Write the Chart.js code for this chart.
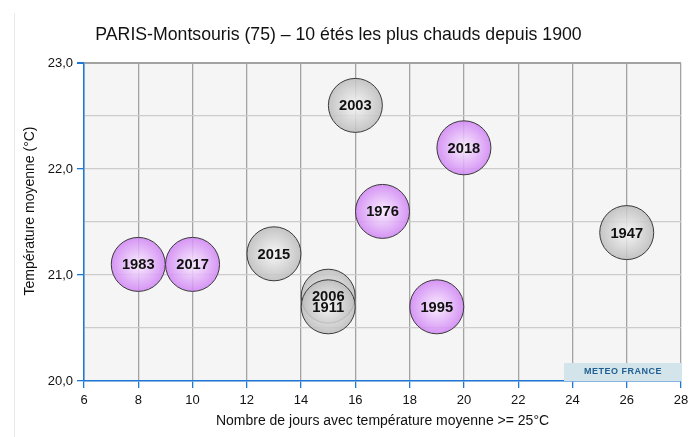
<!DOCTYPE html>
<html><head><meta charset="utf-8">
<script src="https://cdn.jsdelivr.net/npm/chart.js@4/dist/chart.umd.min.js"></script>
<style>html,body{margin:0;padding:0;background:#fff}#wrap{width:696px;height:437px}</style>
</head><body><div id="wrap"><canvas id="c" width="696" height="437"></canvas></div>
<script>
const years = ['1983','2017','2015','2006','1911','2003','1976','1995','2018','1947'];
const hotDays = [8,10,13,15,15,16,17,19,20,26];
const meanTemp = [21.1,21.1,21.2,20.8,20.7,22.6,21.6,20.7,22.2,21.4];
const groups = ['violet','violet','gris','gris','gris','gris','violet','violet','violet','gris'];
const xTicks = [6,8,10,12,14,16,18,20,22,24,26,28];
const yTicks = [20,21,22,23];
const titleText = 'PARIS-Montsouris (75) – 10 étés les plus chauds depuis 1900';

const points = hotDays.map((d,i)=>({x:d,y:meanTemp[i]}));
const BLUE = '#1f78d6';
const FONT = '"Liberation Sans", Arial, sans-serif';

function grad(ctx){
  const chart = ctx.chart;
  if(!chart.chartArea || ctx.type!=='data') return 'rgba(200,200,200,0.8)';
  const p = ctx.parsed;
  const cx = chart.scales.x.getPixelForValue(p.x);
  const cy = chart.scales.y.getPixelForValue(p.y);
  const g = chart.ctx.createRadialGradient(cx,cy,2,cx,cy,27);
  if(groups[ctx.dataIndex]==='violet'){
    g.addColorStop(0,'rgba(247,228,255,0.85)');
    g.addColorStop(1,'rgba(208,132,244,0.85)');
  } else {
    g.addColorStop(0,'rgba(242,242,242,0.85)');
    g.addColorStop(1,'rgba(188,188,188,0.85)');
  }
  return g;
}

const extras = {
  id:'extras',
  beforeDraw(chart){
    const c = chart.ctx;
    c.save();
    c.strokeStyle='#e8e8e8'; c.lineWidth=1;
    c.beginPath(); c.moveTo(14.5,13); c.lineTo(14.5,437); c.stroke();
    const a = chart.chartArea;
    c.fillStyle='#f5f5f5';
    c.fillRect(a.left,a.top,a.right-a.left,a.bottom-a.top);
    c.restore();
  },
  afterDatasetsDraw(chart){
    const c = chart.ctx;
    const meta = chart.getDatasetMeta(0);
    c.save();
    c.font = 'bold 14.7px '+FONT;
    c.fillStyle = '#111';
    c.textAlign='center'; c.textBaseline='middle';
    meta.data.forEach((el,i)=>{ c.fillText(years[i], el.x, el.y+1); });
    c.restore();
  },
  afterDraw(chart){
    const c = chart.ctx, a = chart.chartArea;
    c.save();
    c.font = '17.7px '+FONT; c.fillStyle='#111';
    c.textAlign='center'; c.textBaseline='middle';
    c.fillText(titleText, 338.5, 35);
    c.restore();
    c.save();
    c.translate(30, 211);
    c.rotate(-Math.PI/2);
    c.font = '14px '+FONT; c.fillStyle='#111';
    c.textAlign='center'; c.textBaseline='middle';
    c.fillText('Température moyenne (°C)',0,0);
    c.restore();
    c.save();
    const w=118,h=18;
    c.fillStyle='#d3e4ea';
    c.fillRect(a.right-w+1, a.bottom-h, w, h);
    c.font='bold 9px '+FONT; c.fillStyle='#1f5f92';
    c.textAlign='center'; c.textBaseline='middle';
    if ('letterSpacing' in c) c.letterSpacing='0.5px';
    c.fillText('METEO FRANCE', a.right-w/2+1, a.bottom-h/2);
    c.restore();
  }
};

new Chart(document.getElementById('c'),{
  type:'bubble',
  data:{datasets:[{
    data:points,
    radius:27,
    backgroundColor:grad,
    borderColor:'#3a3a3a',
    borderWidth:1,
    hoverRadius:0
  }]},
  options:{
    responsive:false,
    animation:false,
    events:[],
    layout:{autoPadding:false,padding:{left:0,right:15,top:63,bottom:0}},
    plugins:{
      legend:{display:false},
      tooltip:{enabled:false},
      title:{display:false}
    },
    scales:{
      x:{
        type:'linear',min:xTicks[0],max:xTicks[xTicks.length-1],
        afterBuildTicks(s){ s.ticks = xTicks.map(v=>({value:v})); },
        afterFit(s){ s.height = 56; },
        ticks:{color:'#111',font:{family:FONT,size:13},padding:5,maxRotation:0},
        grid:{color:'#a3a3a3',lineWidth:1.3,tickColor:BLUE,tickLength:7,drawTicks:true},
        border:{display:true,color:BLUE,width:1.5},
        title:{display:true,text:'Nombre de jours avec température moyenne >= 25°C',
          color:'#111',font:{family:FONT,size:14},padding:{top:0,bottom:7.6}}
      },
      y:{
        type:'linear',min:20,max:23,
        afterBuildTicks(s){ const t=[]; for(let v=20;v<=23.001;v+=0.5) t.push({value:Math.round(v*10)/10}); s.ticks=t; },
        afterFit(s){ s.width = 84; },
        ticks:{color:'#111',font:{family:FONT,size:13},padding:4,
          callback:(v)=> (yTicks.includes(v) ? v.toFixed(1).replace('.',',') : '')},
        grid:{
          color:(ctx)=> ctx.tick && ctx.tick.value===23 ? '#a3a3a3' : '#cccccc',
          lineWidth:(ctx)=> ctx.tick && ctx.tick.value===23 ? 2 : 1.3,
          tickColor:(ctx)=> ctx.tick && yTicks.includes(ctx.tick.value) ? BLUE : 'rgba(0,0,0,0)',
          tickLength:7
        },
        border:{display:true,color:BLUE,width:1.5}
      }
    }
  },
  plugins:[extras]
});
</script></body></html>
